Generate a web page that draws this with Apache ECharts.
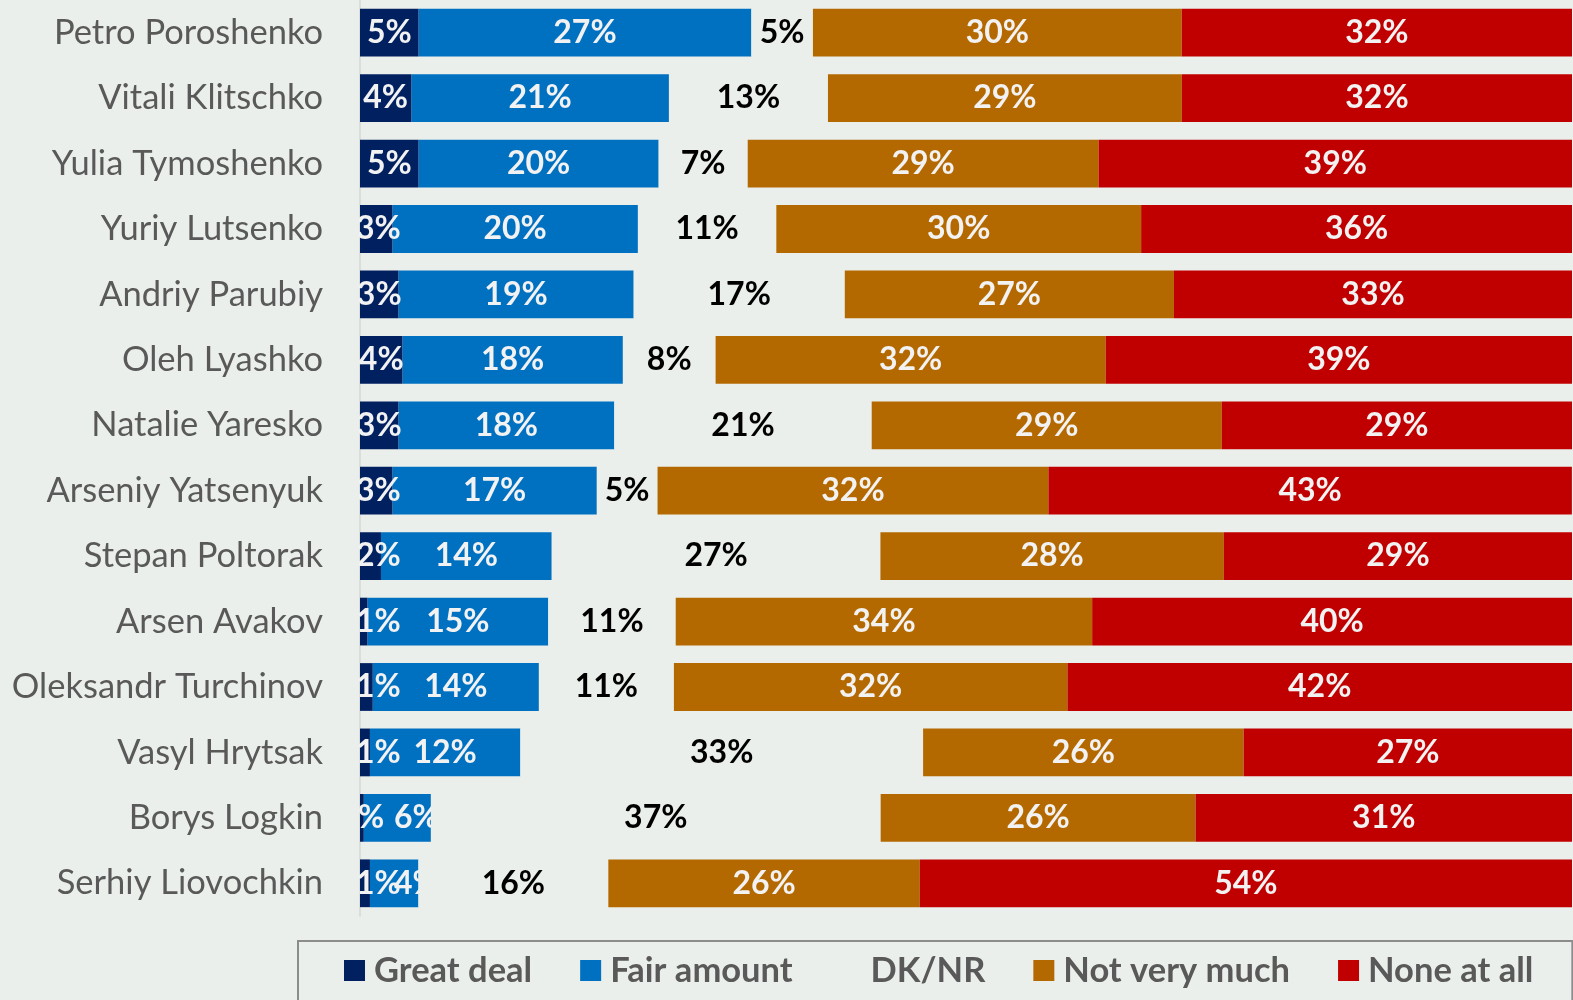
<!DOCTYPE html>
<html>
<head>
<meta charset="utf-8">
<script src="https://cdn.jsdelivr.net/npm/echarts@6/dist/echarts.min.js"></script>
<style>
  html, body { margin: 0; padding: 0; background: #ebefeb; }
  #chart { width: 1573px; height: 1000px; }
</style>
</head>
<body>
<div id="chart"></div>
<script>
const people = [
  "Petro Poroshenko", "Vitali Klitschko", "Yulia Tymoshenko", "Yuriy Lutsenko",
  "Andriy Parubiy", "Oleh Lyashko", "Natalie Yaresko", "Arseniy Yatsenyuk",
  "Stepan Poltorak", "Arsen Avakov", "Oleksandr Turchinov", "Vasyl Hrytsak",
  "Borys Logkin", "Serhiy Liovochkin",
];

// shares in percent
const greatDeal = [4.83, 4.23, 4.83, 2.67, 3.17, 3.5, 3.17, 2.67, 1.73, 0.61, 1.05, 0.82, 0.31, 0.82];
const fairAmount = [27.46, 21.26, 19.81, 20.26, 19.41, 18.19, 17.81, 16.87, 14.09, 14.92, 13.71, 12.41, 5.54, 4.0];
const dkNr = [5.08, 13.12, 7.35, 11.42, 17.42, 7.65, 21.24, 5.01, 27.12, 10.52, 11.14, 33.23, 37.11, 15.67];
const notVeryMuch = [30.43, 29.2, 28.95, 30.1, 27.16, 32.19, 28.89, 32.25, 28.34, 34.36, 32.47, 26.45, 25.98, 25.7];
const noneAtAll = [32.2, 32.2, 39.07, 35.55, 32.85, 38.5, 28.89, 43.19, 28.72, 39.6, 41.64, 27.1, 31.06, 53.82];

const BG = "#ebefeb";
const FONT = "Lato, 'Open Sans', sans-serif";
const PLOT_LEFT = 360;

function part(name, data, color, labelColor, z) {
  return {
    name,
    type: "bar",
    stack: "all",
    data,
    z,
    barCategoryGap: "27%",
    itemStyle: { color },
    label: {
      show: true,
      position: "inside",
      color: labelColor,
      fontFamily: FONT,
      fontWeight: "bold",
      fontSize: 32,
      formatter: (p) => Math.round(p.value) + "%",
    },
    emphasis: { disabled: true },
  };
}

// keep a label's left edge at or right of minLeft (Excel nudges labels of tiny segments)
function nudge(minLeft, skip) {
  return (p) => {
    const cx = p.rect.x + p.rect.width / 2;
    const x = skip && skip(p.dataIndex) ? cx : Math.max(cx, minLeft + p.labelRect.width / 2);
    return { x, y: p.rect.y + p.rect.height / 2, align: "center", verticalAlign: "middle" };
  };
}

const greatSeries = part("Great deal", greatDeal, "#002060", "#f2f2f2", 4);
greatSeries.labelLayout = nudge(PLOT_LEFT - 4, (i) => greatDeal[i] < 0.5);

const fairSeries = part("Fair amount", fairAmount, "#0070c0", "#f2f2f2", 2);
fairSeries.labelLayout = nudge(PLOT_LEFT + 34);

const chart = echarts.init(document.getElementById("chart"), null, { renderer: "canvas" });

chart.setOption({
  backgroundColor: BG,
  animation: false,
  grid: { left: PLOT_LEFT, right: 1, top: 0, bottom: 84, containLabel: false },
  xAxis: { type: "value", min: 0, max: 100, show: false },
  yAxis: {
    type: "category",
    inverse: true,
    data: people,
    axisLine: { show: true, lineStyle: { color: "#d4d8d4", width: 1.5 } },
    axisTick: { show: false },
    axisLabel: { color: "#595959", fontFamily: FONT, fontSize: 34.5, margin: 37 },
  },
  legend: {
    left: 298,
    top: 941,
    width: 1265,
    padding: [12, 39, 40, 46],
    borderColor: "#8c8c8c",
    borderWidth: 2,
    icon: "rect",
    itemWidth: 21,
    itemHeight: 21,
    itemGap: 48,
    textStyle: {
      color: "#595959",
      fontFamily: FONT,
      fontWeight: "bold",
      fontSize: 34.5,
      padding: [0, 0, 0, 4],
    },
    data: ["Great deal", "Fair amount", "DK/NR", "Not very much", "None at all"],
  },
  // Excel clips labels at the plot edge; hide the bits that spill left of the axis
  graphic: [{
    type: "rect",
    z: 100,
    silent: true,
    shape: { x: 327, y: 0, width: PLOT_LEFT - 1 - 327, height: 916 },
    style: { fill: BG },
  }],
  series: [
    greatSeries,
    fairSeries,
    // DK/NR bar is filled with the background colour so it covers labels running over
    part("DK/NR", dkNr, BG, "#000000", 3),
    part("Not very much", notVeryMuch, "#b46900", "#f2f2f2", 3),
    part("None at all", noneAtAll, "#c00000", "#f2f2f2", 3),
  ],
});
</script>
</body>
</html>
